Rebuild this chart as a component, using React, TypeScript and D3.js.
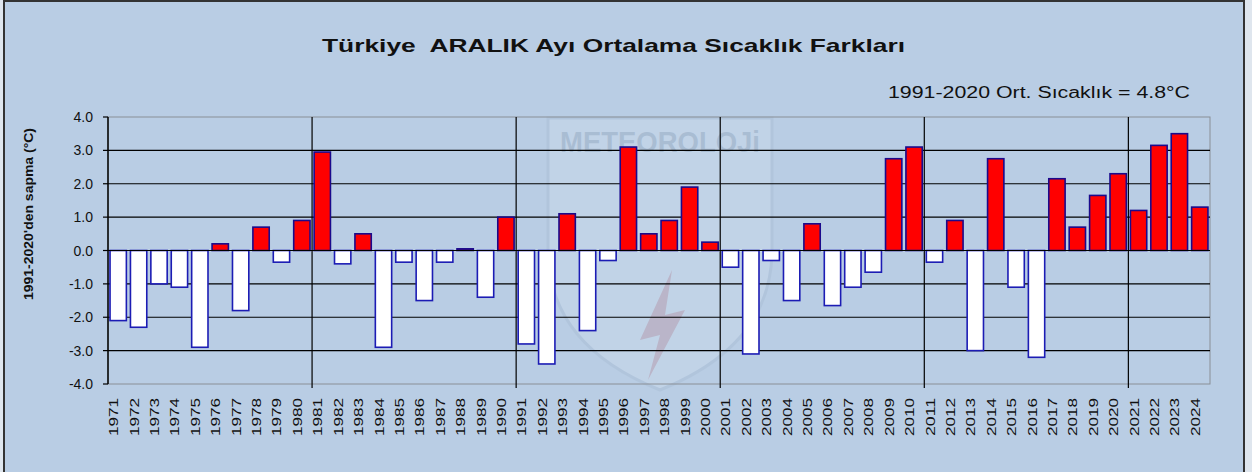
import * as d3 from 'd3';

const years: number[] = [
  1971, 1972, 1973, 1974, 1975, 1976, 1977, 1978, 1979, 1980,
  1981, 1982, 1983, 1984, 1985, 1986, 1987, 1988, 1989, 1990,
  1991, 1992, 1993, 1994, 1995, 1996, 1997, 1998, 1999, 2000,
  2001, 2002, 2003, 2004, 2005, 2006, 2007, 2008, 2009, 2010,
  2011, 2012, 2013, 2014, 2015, 2016, 2017, 2018, 2019, 2020,
  2021, 2022, 2023, 2024,
];

// anomaly from the 1991-2020 mean (°C)
const anomalies: number[] = [
  -2.1, -2.3, -1.0, -1.1, -2.9, 0.2, -1.8, 0.7, -0.35, 0.9,
  2.95, -0.4, 0.5, -2.9, -0.35, -1.5, -0.35, 0.05, -1.4, 1.0,
  -2.8, -3.4, 1.1, -2.4, -0.3, 3.1, 0.5, 0.9, 1.9, 0.25,
  -0.5, -3.1, -0.3, -1.5, 0.8, -1.65, -1.1, -0.65, 2.75, 3.1,
  -0.35, 0.9, -3.0, 2.75, -1.1, -3.2, 2.15, 0.7, 1.65, 2.3,
  1.2, 3.15, 3.5, 1.3,
];

const yTicks: number[] = [-4, -3, -2, -1, 0, 1, 2, 3, 4];
const decadeStarts: number[] = [1981, 1991, 2001, 2011, 2021];

const title = 'Türkiye  ARALIK Ayı Ortalama Sıcaklık Farkları';
const subtitle = '1991-2020 Ort. Sıcaklık = 4.8°C';
const yLabel = "1991-2020'den sapma (°C)";

export default function App() {
  const width = 1252;
  const height = 472;
  const plot = { left: 108, right: 1210, top: 117, bottom: 384 };
  const font = '"Liberation Sans", Arial, sans-serif';
  const bg = '#b9cde4';

  const x = d3
    .scaleBand<number>()
    .domain(years)
    .range([plot.left, plot.right])
    .paddingInner(0.2)
    .paddingOuter(0.1);
  const step = x.step();
  const y = d3.scaleLinear().domain([-4, 4]).range([plot.bottom, plot.top]);

  return (
    <svg
      width={width}
      height={height}
      style={{ position: 'absolute', left: 0, top: 0, display: 'block' }}
      fontFamily={font}
    >
      <rect x={0} y={0} width={width} height={height} fill="#dfe6ee" />
      <rect x={4} y={1} width={1240} height={height + 10} fill={bg} stroke="#333" strokeWidth={2} />

      {/* faint logo watermark */}
      <g opacity={0.16}>
        <path
          d="M548,118 L772,118 L772,250 Q772,345 660,390 Q548,345 548,250 Z"
          fill="#eef3f8"
          stroke="#8aa0b8"
          strokeWidth={3}
        />
        <text x={660} y={152} textAnchor="middle" fontSize={30} fontWeight="bold" fill="#5d6d80" textLength={200} lengthAdjust="spacingAndGlyphs">
          METEOROLOJi
        </text>
        <path d="M672,270 L640,340 L660,335 L648,380 L685,310 L665,315 Z" fill="#c04040" />
      </g>

      <text
        x={322}
        y={52}
        fontSize={19}
        fontWeight="bold"
        fill="#111"
        textLength={583}
        lengthAdjust="spacingAndGlyphs"
        style={{ whiteSpace: 'pre' }}
      >
        {title}
      </text>
      <text x={888} y={98} fontSize={16} fill="#111" textLength={302} lengthAdjust="spacingAndGlyphs">
        {subtitle}
      </text>

      <rect
        x={plot.left}
        y={plot.top}
        width={plot.right - plot.left}
        height={plot.bottom - plot.top}
        fill="none"
        stroke="#8a8f96"
        strokeWidth={1}
      />

      {yTicks.slice(1, -1).map((t) => (
        <line key={`g${t}`} x1={plot.left} x2={plot.right} y1={y(t)} y2={y(t)} stroke="#000" strokeWidth={1.2} />
      ))}
      {decadeStarts.map((yr) => {
        const xx = (x(yr) ?? 0) - (step - x.bandwidth()) / 2;
        return (
          <line key={`d${yr}`} x1={xx} x2={xx} y1={plot.top} y2={plot.bottom + 4} stroke="#000" strokeWidth={1.2} />
        );
      })}

      {years.map((yr, i) => {
        const v = anomalies[i];
        const pos = v >= 0;
        return (
          <rect
            key={yr}
            x={x(yr)}
            y={y(Math.max(v, 0))}
            width={x.bandwidth()}
            height={Math.abs(y(v) - y(0))}
            fill={pos ? '#ff0000' : '#ffffff'}
            stroke={pos ? '#1a0a8c' : '#1c1cb4'}
            strokeWidth={1.6}
          />
        );
      })}

      <line x1={plot.left} x2={plot.right} y1={y(0)} y2={y(0)} stroke="#000" strokeWidth={1.2} />
      <line x1={plot.left} x2={plot.left} y1={plot.top} y2={plot.bottom} stroke="#000" strokeWidth={1.5} />
      {yTicks.map((t) => (
        <g key={`t${t}`}>
          <line x1={plot.left - 5} x2={plot.left} y1={y(t)} y2={y(t)} stroke="#000" strokeWidth={1.2} />
          <text x={plot.left - 15} y={y(t) + 5} textAnchor="end" fontSize={14} fill="#111">
            {t.toFixed(1)}
          </text>
        </g>
      ))}

      {years.map((yr) => {
        const cx = (x(yr) ?? 0) + x.bandwidth() / 2;
        return (
          <text
            key={`l${yr}`}
            transform={`translate(${cx},${plot.bottom + 14}) rotate(-90)`}
            textAnchor="end"
            fontSize={12}
            fill="#111"
            textLength={38}
            lengthAdjust="spacingAndGlyphs"
          >
            {yr}
          </text>
        );
      })}

      <text
        transform={`translate(33,214) rotate(-90)`}
        textAnchor="middle"
        fontSize={13}
        fontWeight="bold"
        fill="#111"
        textLength={172}
        lengthAdjust="spacingAndGlyphs"
      >
        {yLabel}
      </text>
    </svg>
  );
}
